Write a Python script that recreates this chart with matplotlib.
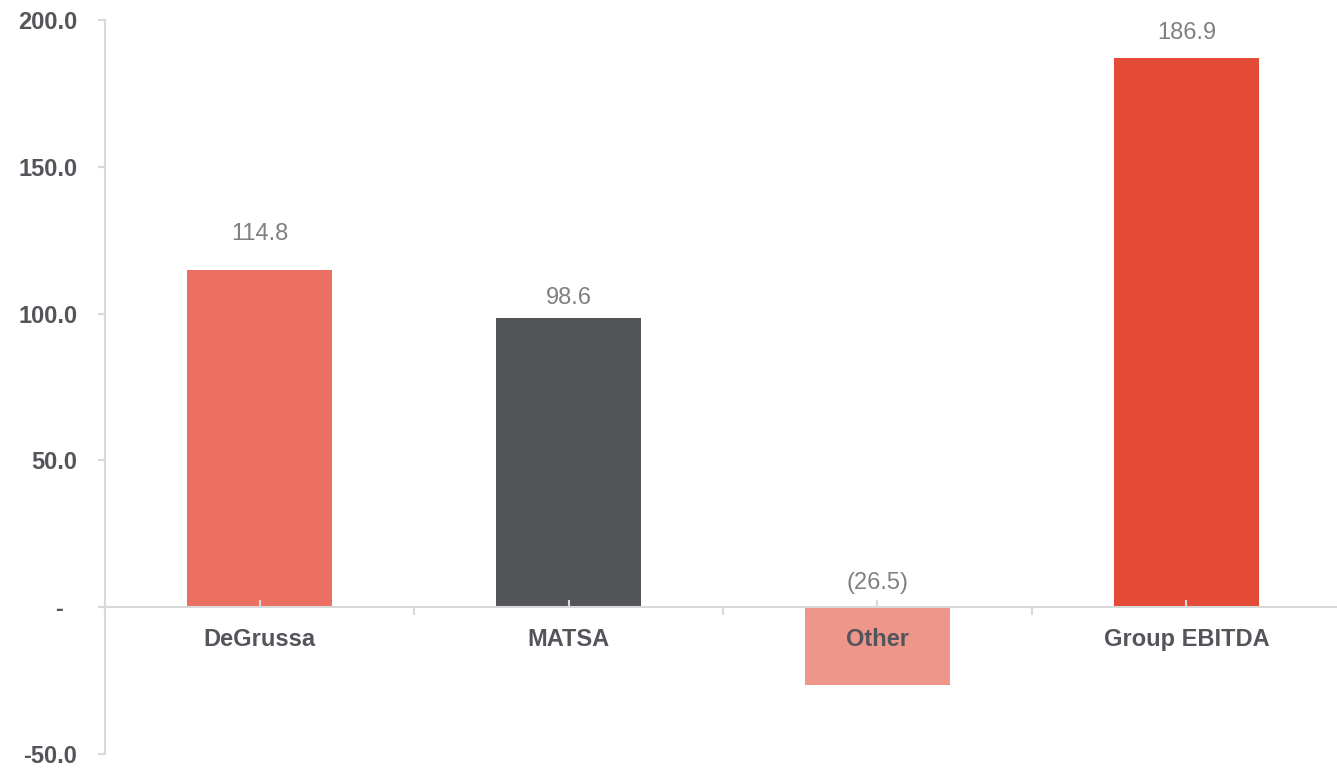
import matplotlib.pyplot as plt
from matplotlib.ticker import FixedLocator

categories = ['DeGrussa', 'MATSA', 'Other', 'Group EBITDA']
values = [114.8, 98.6, -26.5, 186.9]
y_ticks = [-50, 0, 50, 100, 150, 200]

bar_colors = ['#ec7062', '#545559', '#ee968a', '#e44b36']
# distancia do texto ate o topo da barra, em pixels
label_offsets = [36, 20, 24, 25]

plt.rcParams['font.family'] = ['Liberation Sans', 'DejaVu Sans']

fig = plt.figure(figsize=(13.37, 7.68), dpi=100)
ax = fig.add_axes([105 / 1337, 14 / 768, (1341 - 105) / 1337, (754 - 20) / 768])

x = list(range(len(categories)))
ax.bar(x, values, width=0.47, color=bar_colors, zorder=1)

ax.set_xlim(-0.5, len(categories) - 0.5)
ax.set_ylim(-50, 200)

# rotulos dos valores
for xi, v, off in zip(x, values, label_offsets):
    txt = f'{v:.1f}' if v >= 0 else f'({abs(v):.1f})'
    base = max(v, 0)
    ax.annotate(txt, (xi, base), xytext=(0, off * 0.72), textcoords='offset points',
                ha='center', va='center', fontsize=17, color='#808080')

grey = '#d9d9d9'
for s in ['top', 'right']:
    ax.spines[s].set_visible(False)
ax.spines['left'].set_color(grey)
ax.spines['left'].set_linewidth(1.5)
ax.spines['bottom'].set_color(grey)
ax.spines['bottom'].set_linewidth(1.5)
ax.spines['bottom'].set_position(('data', 0))
ax.spines['bottom'].set_zorder(2)

ax.set_yticks(y_ticks)
ax.set_yticklabels([f'{t:.1f}' if t != 0 else '-  ' for t in y_ticks])
ax.tick_params(axis='y', direction='out', length=5, width=1.5, color=grey,
               pad=15, labelsize=17, labelcolor='#54555a')
for lab in ax.get_yticklabels():
    lab.set_fontweight('bold')

ax.set_xticks(x)
ax.set_xticklabels(categories)
ax.xaxis.set_minor_locator(FixedLocator([i - 0.5 for i in range(len(categories) + 1)]))
ax.tick_params(axis='x', which='major', direction='in', length=5, width=1.5, color=grey,
               pad=15, labelsize=17, labelcolor='#54555a')
ax.tick_params(axis='x', which='minor', direction='out', length=6, width=1.5, color=grey)
for lab in ax.get_xticklabels():
    lab.set_fontweight('bold')
    lab.set_zorder(3)

plt.savefig('out.png', dpi=100)
